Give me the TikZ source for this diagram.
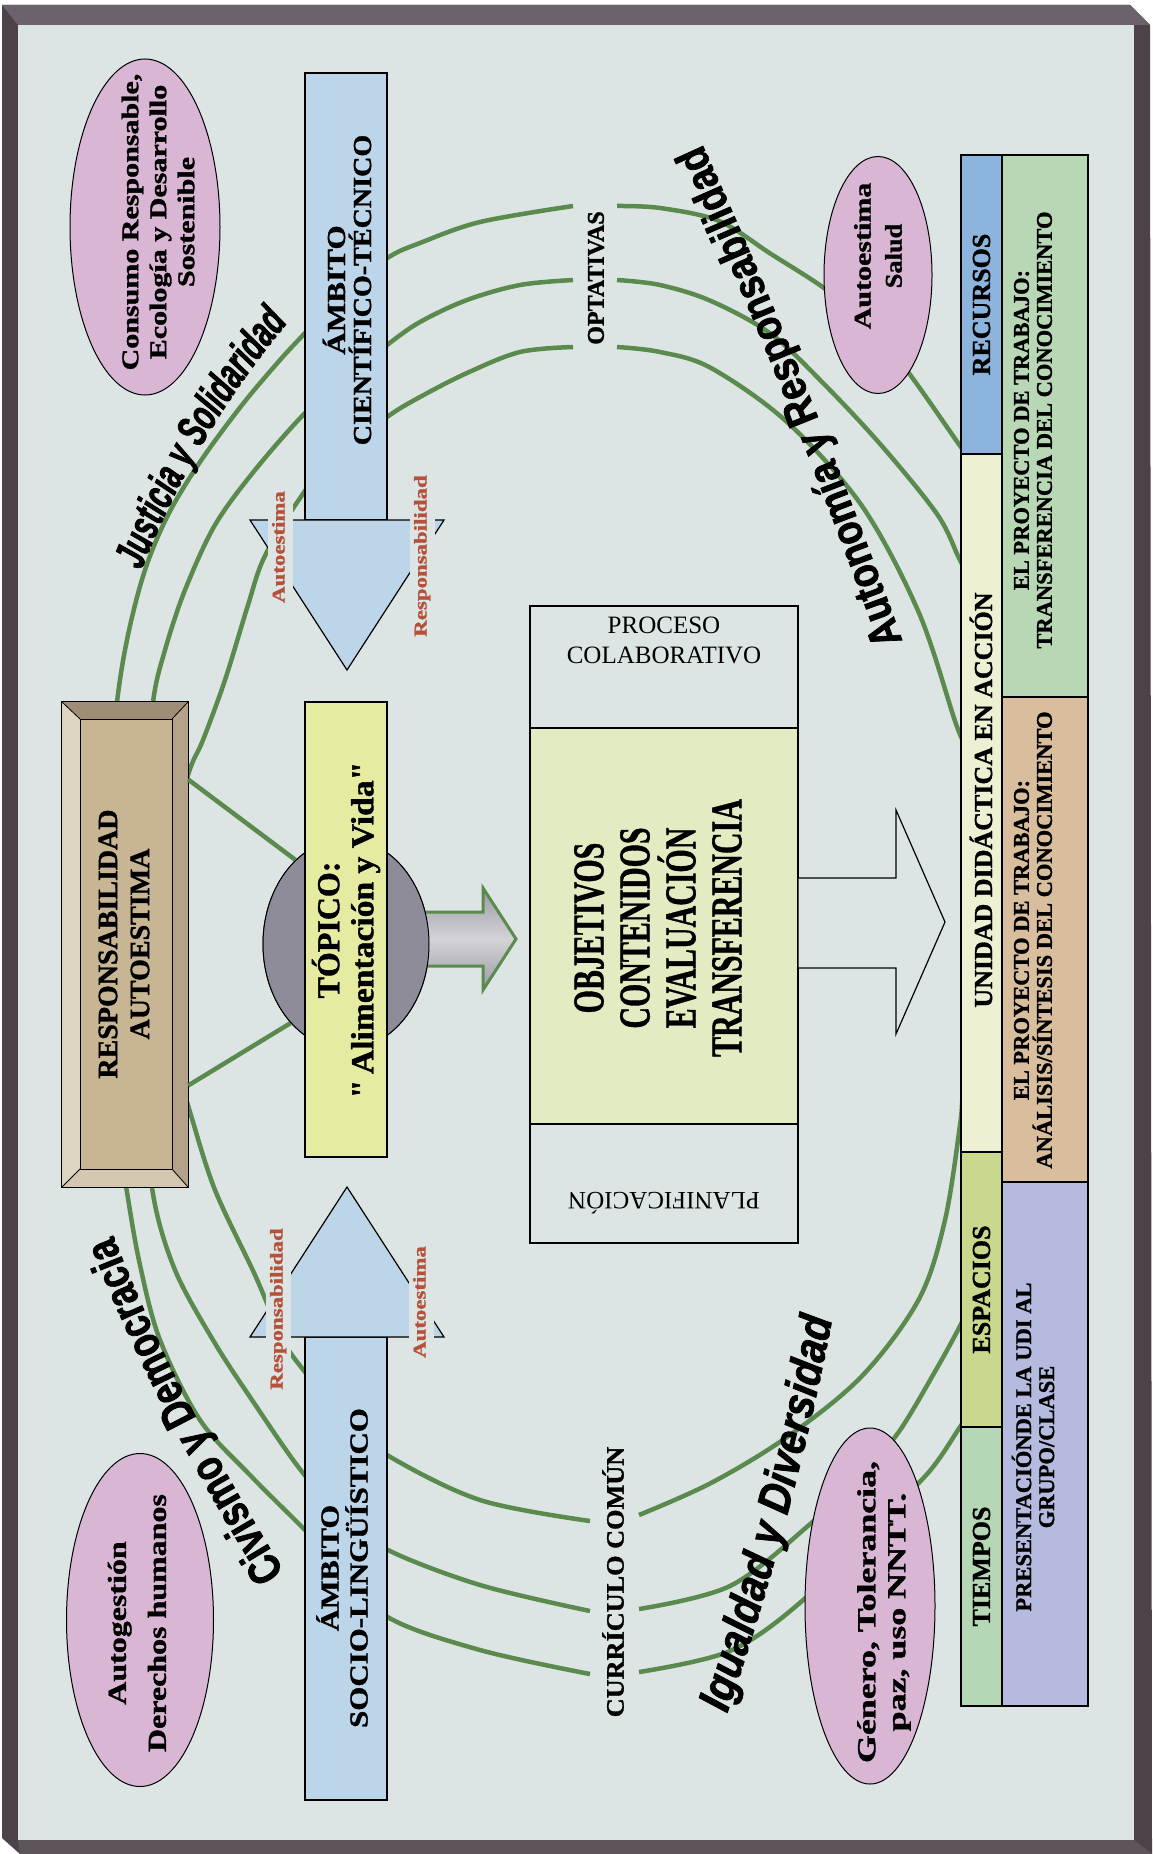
\documentclass[tikz,border=0pt]{standalone}
\usepackage{graphicx}
\usepackage{fontspec}
\setmainfont{Liberation Serif}[BoldFeatures={FakeBold=1.2}]
\newfontfamily\qfont{Liberation Serif}[BoldFeatures={FakeBold=1.2}]
\newfontfamily\autfont{Liberation Sans}[FakeStretch=0.85, FakeBold=1.6]
\newfontfamily\jusfont{Liberation Sans}[FakeStretch=0.64, FakeBold=1.6]
\newfontfamily\civfont{Liberation Sans}[FakeStretch=0.77, FakeBold=1.6]
\newfontfamily\igufont{Liberation Sans}[FakeStretch=0.86, FakeBold=1.6]
\usetikzlibrary{shapes.geometric,decorations.text}

\definecolor{panel}{HTML}{DCE5E3}
\definecolor{frametop}{HTML}{6C626B}
\definecolor{frameside}{HTML}{4C424A}
\definecolor{framebot}{HTML}{5E545C}
\definecolor{arcgreen}{HTML}{5B8A4E}
\definecolor{pinkfill}{HTML}{D8B6D4}
\definecolor{steel}{HTML}{BCD5E8}
\definecolor{yellowbox}{HTML}{E6EBA2}
\definecolor{topgray}{HTML}{8F8C99}
\definecolor{tanface}{HTML}{C8B594}
\definecolor{tantop}{HTML}{A08D75}
\definecolor{tanleft}{HTML}{DDD4C2}
\definecolor{tanright}{HTML}{B4A389}
\definecolor{tanbot}{HTML}{D3C7AF}
\definecolor{procmid}{HTML}{E3EBC3}
\definecolor{recursos}{HTML}{8DB4DC}
\definecolor{unidad}{HTML}{EEF0D4}
\definecolor{espacios}{HTML}{C8D88C}
\definecolor{tiempos}{HTML}{B6D7B5}
\definecolor{proyA}{HTML}{B8D8B5}
\definecolor{proyB}{HTML}{D9BE9E}
\definecolor{proyC}{HTML}{B5BADF}
\definecolor{labelred}{HTML}{B5503A}
\definecolor{graymid}{HTML}{D4D3D8}
\definecolor{grayedge}{HTML}{9B99A2}

\newcommand\fsz[2]{\fontsize{#1}{#2}\selectfont}
\newcommand\hs[2]{\scalebox{#1}[1]{#2}}
\newcommand\dq{{\qfont\bfseries"}}

\tikzset{
  arcline/.style={draw=arcgreen, line width=4.5pt},
  pinkell/.style={ellipse, draw=black, line width=1pt, fill=pinkfill, inner sep=0pt},
  vtext/.style={rotate=90, align=center, inner sep=0pt},
  lbl/.style={rotate=90, fill=panel, text=labelred, inner xsep=1pt, inner ysep=4pt,
              text height=13pt, text depth=4pt, font=\bfseries\fsz{18}{18}},
  colbox/.style={draw=black, line width=1.2pt, inner sep=0pt},
  blockarrow/.style={draw=black, line width=1.2pt, fill=steel},
}

\begin{document}
\begin{tikzpicture}[x=1pt,y=-1pt]
\useasboundingbox (0,0) rectangle (1152,1854);

% ---------- frame ----------
\fill[white] (0,0) rectangle (1152,1854);
\fill[frameside] (2,5) -- (1130,5) -- (1150,25) -- (1152,1854) -- (20,1854) -- (2,1838) -- cycle;
\fill[frametop] (2,5) -- (1130,5) -- (1150,25) -- (18,25) -- cycle;
\fill[framebot] (18,1840) -- (1134,1840) -- (1152,1854) -- (20,1854) -- cycle;
\fill[panel] (18,25) rectangle (1134,1840);

% ---------- green loops ----------
% outer loop
\draw[arcline] plot[smooth, tension=0.55] coordinates {(968,457) (958,443) (911,376) (870,325) (824,288) (771,254) (719,221) (660,208) (617,206)};
\draw[arcline] plot[smooth, tension=0.55] coordinates {(573,206) (480,222) (420,243) (389,257) (345,290) (305,333) (280,360) (242,405) (200,462) (168,515) (145,570) (128,635) (117,702) (108,800) (106,944) (112,1090) (127,1192) (140,1265) (160,1340) (200,1420) (250,1475) (295,1520) (335,1560) (386,1616) (480,1650) (590,1674)};
\draw[arcline] plot[smooth, tension=0.55] coordinates {(639,1672) (730,1651) (802,1601) (870,1530) (928,1473) (960,1427) (968,1416)};
% middle loop
\draw[arcline] plot[smooth, tension=0.55] coordinates {(965,570) (958,556) (937,514) (881,445) (824,384) (771,334) (711,301) (660,285) (617,280)};
\draw[arcline] plot[smooth, tension=0.55] coordinates {(573,280) (520,285) (467,300) (420,322) (387,345) (345,378) (305,413) (255,470) (215,525) (185,590) (165,650) (153,702) (145,800) (143,944) (145,1090) (153,1194) (175,1270) (213,1340) (250,1397) (303,1473) (345,1515) (386,1549) (480,1585) (590,1611)};
\draw[arcline] plot[smooth, tension=0.55] coordinates {(639,1609) (730,1586) (809,1525) (860,1475) (898,1433) (937,1368) (960,1326) (966,1312)};
% inner loop
\draw[arcline] plot[smooth, tension=0.55] coordinates {(966,745) (956,724) (919,613) (862,506) (787,422) (711,368) (660,352) (617,347)};
\draw[arcline] plot[smooth, tension=0.55] coordinates {(573,347) (520,352) (467,373) (420,397) (387,417) (330,460) (290,513) (263,560) (248,605) (225,680) (203,740) (190,769) (172,830)};
\draw[arcline] plot[smooth, tension=0.55] coordinates {(172,1050) (190,1112) (215,1190) (255,1275) (283,1340) (305,1372) (345,1420) (387,1455) (480,1500) (590,1521)};
\draw[arcline] plot[smooth, tension=0.55] coordinates {(639,1515) (711,1483) (787,1437) (862,1376) (919,1299) (945,1220) (960,1125) (962,1100)};

% ---------- values ellipses ----------
\node[pinkell, minimum width=150pt, minimum height=336pt] (consumo) at (145,227) {};
\node[vtext, font=\bfseries\fsz{24}{28}] (consumotxt) at (158,222)
  {\hs{1.25}{Consumo Responsable,}\\\hs{1.25}{Ecología y Desarrollo}\\\hs{1.25}{Sostenible}};
\node[pinkell, minimum width=108pt, minimum height=237pt] (salud) at (878,275) {};
\node[vtext, font=\bfseries\fsz{24}{31}] (saludtxt) at (878,256)
  {\hs{1.25}{Autoestima}\\\hs{1.1}{Salud}};
\node[pinkell, minimum width=147pt, minimum height=333pt] (autog) at (140,1620) {};
\node[vtext, font=\bfseries\fsz{26}{40}] (autogtxt) at (137,1623)
  {\hs{1.23}{Autogestión}\\\hs{1.23}{Derechos humanos}};
\node[pinkell, minimum width=130pt, minimum height=356pt] (genero) at (870,1606) {};
\node[vtext, font=\bfseries\fsz{26}{30}] (generotxt) at (884,1612)
  {\hs{1.38}{Género, Tolerancia,}\\\hs{1.38}{paz, uso NNTT.}};

% ---------- curved value words ----------
\path[decorate, decoration={text along path, text align=center,
  text={|\autfont\bfseries\fsz{44}{44}|Autonomía y Responsabilidad}}]
  (912,668) .. controls (860,520) and (775,300) .. (690,118);
\path[decorate, decoration={text along path, text align=center,
  text={|\jusfont\bfseries\itshape\fsz{44}{44}|Justicia y Solidaridad}}]
  (120,630) .. controls (165,490) and (235,375) .. (330,275);
\path[decorate, decoration={text along path, text align=center,
  text={|\civfont\bfseries\fsz{46}{46}|Civismo y Democracia}}]
  (305,1605) .. controls (220,1470) and (150,1340) .. (100,1200);
\path[decorate, decoration={text along path, text align=center,
  text={|\igufont\bfseries\itshape\fsz{46}{46}|Igualdad y Diversidad}}]
  (717,1743) .. controls (769,1594) and (810,1443) .. (838,1288);

% ---------- RESPONSABILIDAD / AUTOESTIMA bevelled box ----------
\node[minimum width=126pt, minimum height=485pt, inner sep=0pt] (resp) at (125,944.5) {};
\fill[tantop] (62,702) -- (188,702) -- (172,719) -- (80,719) -- cycle;
\fill[tanbot] (62,1187) -- (188,1187) -- (172,1169) -- (80,1169) -- cycle;
\fill[tanleft] (62,702) -- (80,719) -- (80,1169) -- (62,1187) -- cycle;
\fill[tanright] (188,702) -- (172,719) -- (172,1169) -- (188,1187) -- cycle;
\fill[tanface] (80,719) rectangle (172,1169);
\draw[line width=1.2pt] (resp.north west) rectangle (resp.south east);
\draw[line width=0.8pt] (80,719) rectangle (172,1169);
\draw[line width=0.8pt] (62,702) -- (80,719) (188,702) -- (172,719) (62,1187) -- (80,1169) (188,1187) -- (172,1169);
\node[vtext, font=\bfseries\fsz{28}{32}] (resptxt) at (124,944) {RESPONSABILIDAD\\AUTOESTIMA};

% ---------- topic ----------
\node[ellipse, draw=black, line width=1pt, fill=topgray, minimum width=166pt, minimum height=210pt, inner sep=0pt] (topico) at (346,944) {};
\draw[arcline] ([yshift=165pt]resp.east) -- (topico.121);
\draw[arcline] ([yshift=-141pt]resp.east) -- (topico.235);
\draw[draw=arcgreen, line width=3pt, top color=grayedge, bottom color=grayedge, middle color=graymid]
  (412,912) -- (483,912) -- (483,888) -- (516,939) -- (483,990) -- (483,966) -- (412,966);
\node[ellipse, draw=black, line width=1pt, fill=topgray, minimum width=166pt, minimum height=210pt, inner sep=0pt] at (topico) {};
\node[draw=black, line width=1.2pt, fill=yellowbox, minimum width=82pt, minimum height=455pt, inner sep=0pt] (topbox) at (346,929.5) {};
\node[vtext, font=\bfseries\fsz{32}{34}] (topictxt) at (346,930) {TÓPICO:\\\hs{1.05}{\dq\,Alimentación y Vida\dq}};

% ---------- subject-area block arrows ----------
\draw[blockarrow] (305,73) rectangle (387,520);
\draw[blockarrow] (250,520) -- (444,520) -- (347,670) -- cycle;
\node[vtext, font=\bfseries\fsz{26}{26}] (cientxt) at (347,290) {\hs{1.2}{ÁMBITO}\\\hs{1.08}{CIENTÍFICO-TÉCNICO}};
\node[lbl] (ctauto) at (280,547) {\hs{1.27}{Autoestima}};
\node[lbl] (ctresp) at (422,556) {\hs{1.27}{Responsabilidad}};

\draw[blockarrow] (305,1337) rectangle (387,1800);
\draw[blockarrow] (250,1337) -- (444,1337) -- (347,1187) -- cycle;
\node[vtext, font=\bfseries\fsz{26}{29}] (socitxt) at (342,1568) {\hs{1.17}{ÁMBITO}\\\hs{1.19}{SOCIO-LINGÜÍSTICO}};
\node[lbl] (slresp) at (278,1309) {\hs{1.27}{Responsabilidad}};
\node[lbl] (slauto) at (421,1302) {\hs{1.27}{Autoestima}};

% ---------- collaborative process ----------
\node[draw=black, line width=1.2pt, fill=panel, minimum width=268pt, minimum height=637pt, inner sep=0pt] (proc) at (664,924.5) {};
\node[draw=black, line width=1.2pt, fill=procmid, minimum width=268pt, minimum height=396pt, inner sep=0pt] (procmid) at (664,926) {};
\node[align=center, inner sep=0pt, font=\fsz{25}{30}] (proctitle) at (664,640) {PROCESO\\COLABORATIVO};
\node[rotate=180, inner sep=0pt, font=\fsz{25}{25}] (plan) at (664,1203) {PLANIFICACIÓN};
\node[vtext, font=\bfseries\fsz{44}{46}] (proctxt) at (658,928)
  {\hs{0.68}{OBJETIVOS}\\\hs{0.68}{CONTENIDOS}\\\hs{0.68}{EVALUACIÓN}\\\hs{0.68}{TRANSFERENCIA}};
\draw[line width=1.2pt, fill=panel] (proc.east |- 0,878) -- (896,878) -- (896,810) -- (945,922) -- (896,1034) -- (896,968) -- (proc.east |- 0,968);

% ---------- didactic unit columns ----------
\node[colbox, fill=recursos, minimum width=41pt, minimum height=299pt] (recursos) at (981.5,304.5) {};
\node[colbox, fill=unidad, minimum width=41pt, minimum height=698pt] (unidad) at (981.5,803) {};
\node[colbox, fill=espacios, minimum width=41pt, minimum height=275pt] (espacios) at (981.5,1289.5) {};
\node[colbox, fill=tiempos, minimum width=41pt, minimum height=279pt] (tiempos) at (981.5,1566.5) {};
\node[colbox, fill=proyA, minimum width=86pt, minimum height=542pt] (proyA) at (1045,426) {};
\node[colbox, fill=proyB, minimum width=86pt, minimum height=485pt] (proyB) at (1045,939.5) {};
\node[colbox, fill=proyC, minimum width=86pt, minimum height=524pt] (proyC) at (1045,1444) {};

\node[vtext, font=\bfseries\fsz{26}{26}] at (recursos) {RECURSOS};
\node[vtext, font=\bfseries\fsz{26}{26}] at (981,800) {UNIDAD DIDÁCTICA EN ACCIÓN};
\node[vtext, font=\bfseries\fsz{26}{26}] at (espacios) {ESPACIOS};
\node[vtext, font=\bfseries\fsz{26}{26}] at (tiempos) {TIEMPOS};
\node[vtext, font=\bfseries\fsz{22.5}{23}] at (1033,430) {EL PROYECTO DE TRABAJO:\\TRANSFERENCIA DEL CONOCIMIENTO};
\node[vtext, font=\bfseries\fsz{22.5}{23}] at (1033,940) {EL PROYECTO DE TRABAJO:\\ANÁLISIS/SÍNTESIS DEL CONOCIMIENTO};
\node[vtext, font=\bfseries\fsz{22.5}{23}] at (1033,1447) {PRESENTACIÓNDE LA UDI AL\\GRUPO/CLASE};

% ---------- curriculum labels ----------
\node[vtext, font=\bfseries\fsz{24}{24}] (optativas) at (596,278) {OPTATIVAS};
\node[vtext, font=\bfseries\fsz{25}{25}] (comun) at (613,1582) {\hs{1.05}{CURRÍCULO COMÚN}};
\end{tikzpicture}
\end{document}
